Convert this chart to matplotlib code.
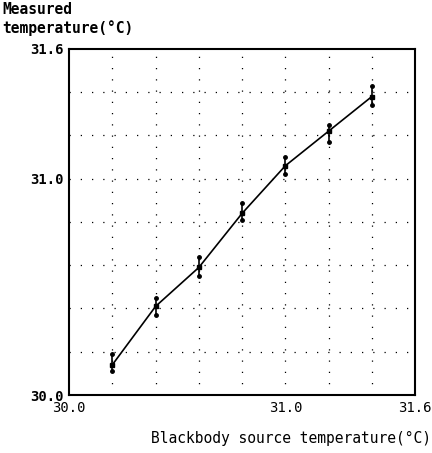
import matplotlib.pyplot as plt

# blackbody source temperature (deg C)
source_temp = [30.2, 30.4, 30.6, 30.8, 31.0, 31.2, 31.4]
# measured temperature: mean, lowest and highest reading
measured_mean = [30.14, 30.41, 30.59, 30.84, 31.06, 31.22, 31.38]
measured_low = [30.11, 30.37, 30.55, 30.81, 31.02, 31.17, 31.34]
measured_high = [30.19, 30.45, 30.64, 30.89, 31.10, 31.25, 31.43]

tick_vals = [30.0, 31.0, 31.6]
tick_labels = ["30.0", "31.0", "31.6"]
grid_vals = [30.2, 30.4, 30.6, 30.8, 31.0, 31.2, 31.4]

mono = "DejaVu Sans Mono"

fig = plt.figure(figsize=(4.32, 4.53), dpi=100)
ax = fig.add_axes([0.160, 0.128, 0.801, 0.764])

for g in grid_vals:
    ax.axvline(g, color="black", lw=0.9, linestyle=(0, (1, 8)), zorder=1)
    ax.axhline(g, color="black", lw=0.9, linestyle=(0, (1, 8)), zorder=1)

# spread of readings
ax.vlines(source_temp, measured_low, measured_high, color="black", lw=1.2, zorder=2)
ax.plot(source_temp, measured_low, "o", color="black", ms=2.5, zorder=3)
ax.plot(source_temp, measured_high, "o", color="black", ms=2.5, zorder=3)
ax.plot(source_temp, measured_mean, "-s", color="black", lw=1.2, ms=3.5, zorder=4)

ax.set_xlim(30.0, 31.6)
ax.set_ylim(30.0, 31.6)
ax.set_xticks(tick_vals)
ax.set_xticklabels(tick_labels, fontfamily=mono, fontsize=10)
ax.set_yticks(tick_vals)
ax.set_yticklabels(tick_labels, fontfamily=mono, fontsize=10, fontweight="bold")
ax.tick_params(length=0, pad=4)
for s in ax.spines.values():
    s.set_linewidth(1.5)

fig.text(0.005, 0.995, "Measured\ntemperature(°C)", ha="left", va="top",
         fontfamily=mono, fontsize=10.5, fontweight="bold", linespacing=1.2)
fig.text(0.998, 0.033, "Blackbody source temperature(°C)", ha="right", va="center",
         fontfamily=mono, fontsize=10.5)

plt.savefig("out.png", dpi=100)
